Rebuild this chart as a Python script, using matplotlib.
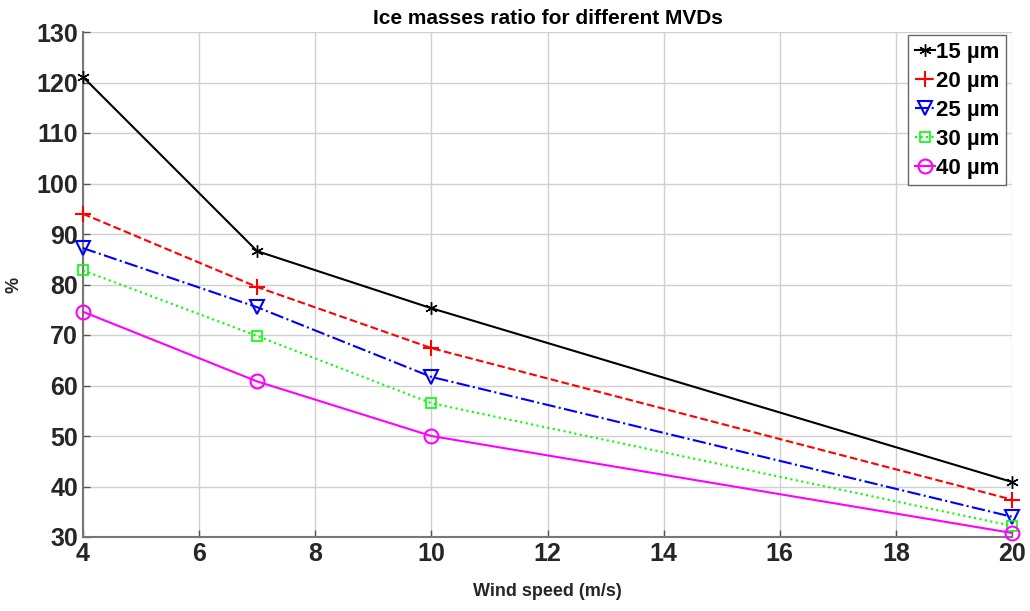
import matplotlib.pyplot as plt

# datos
wind = [4, 7, 10, 20]
mvd_15 = [121.1, 86.6, 75.3, 40.9]
mvd_20 = [94.0, 79.5, 67.4, 37.4]
mvd_25 = [87.2, 75.5, 61.7, 34.0]
mvd_30 = [82.8, 69.8, 56.5, 32.2]
mvd_40 = [74.6, 60.8, 50.0, 30.8]

labels = ['15 µm', '20 µm', '25 µm', '30 µm', '40 µm']

plt.rcParams['font.family'] = ['Liberation Sans', 'DejaVu Sans']
plt.rcParams['font.weight'] = 'bold'

fig = plt.figure(figsize=(10.3, 6.11), dpi=100)
ax = fig.add_axes([83/1030, 1-537/611, (1012-83)/1030, (537-32)/611])

estilo = dict(linewidth=1.5, clip_on=False, zorder=3)
ax.plot(wind, mvd_15, color='k', linestyle='-', marker=(6, 2, 0), markersize=9,
        label=labels[0], **estilo)
ax.plot(wind, mvd_20, color='r', linestyle='--', marker='+', markersize=11,
        markeredgewidth=1.5, label=labels[1], **estilo)
ax.plot(wind, mvd_25, color='b', linestyle='-.', marker='v', markersize=10,
        markerfacecolor='none', markeredgewidth=1.5, label=labels[2], **estilo)
ax.plot(wind, mvd_30, color='#00ff00', linestyle=':', marker='s', markersize=7,
        markerfacecolor='none', markeredgewidth=1.2, label=labels[3], **estilo)
ax.plot(wind, mvd_40, color='#ff00ff', linestyle='-', marker='o', markersize=10,
        markerfacecolor='none', markeredgewidth=1.5, label=labels[4], **estilo)

ax.set_xlim(4, 20)
ax.set_ylim(30, 130)
ax.set_xticks(range(4, 21, 2))
ax.set_yticks(range(30, 131, 10))
ax.tick_params(labelsize=18, length=5, width=1, color='#555555', direction='in')
for lab in ax.get_xticklabels() + ax.get_yticklabels():
    lab.set_fontweight('bold')
    lab.set_color('#262626')
ax.grid(True, color='#d0d0d0', linewidth=1)

ax.spines['top'].set_visible(False)
ax.spines['right'].set_visible(False)
ax.spines['left'].set_color('#777777')
ax.spines['bottom'].set_color('#777777')
ax.spines['left'].set_linewidth(1.5)
ax.spines['bottom'].set_linewidth(1.5)

ax.set_xlabel('Wind speed (m/s)', fontsize=13, fontweight='bold', color='#262626', labelpad=12)
ax.set_ylabel('%', fontsize=13, fontweight='bold', color='#262626', labelpad=10)
ax.set_title('Ice masses ratio for different MVDs', fontsize=15, fontweight='bold', pad=6)

leg = ax.legend(loc='upper right', fontsize=16, handlelength=0.9, handletextpad=0.05,
                borderpad=0.3, labelspacing=0.36, fancybox=False, framealpha=1,
                bbox_to_anchor=(1006/1030, 1-35/611), bbox_transform=fig.transFigure,
                borderaxespad=0)
leg.get_frame().set_edgecolor('#666666')
for t in leg.get_texts():
    t.set_fontweight('bold')

fig.savefig('out.png', dpi=100)
